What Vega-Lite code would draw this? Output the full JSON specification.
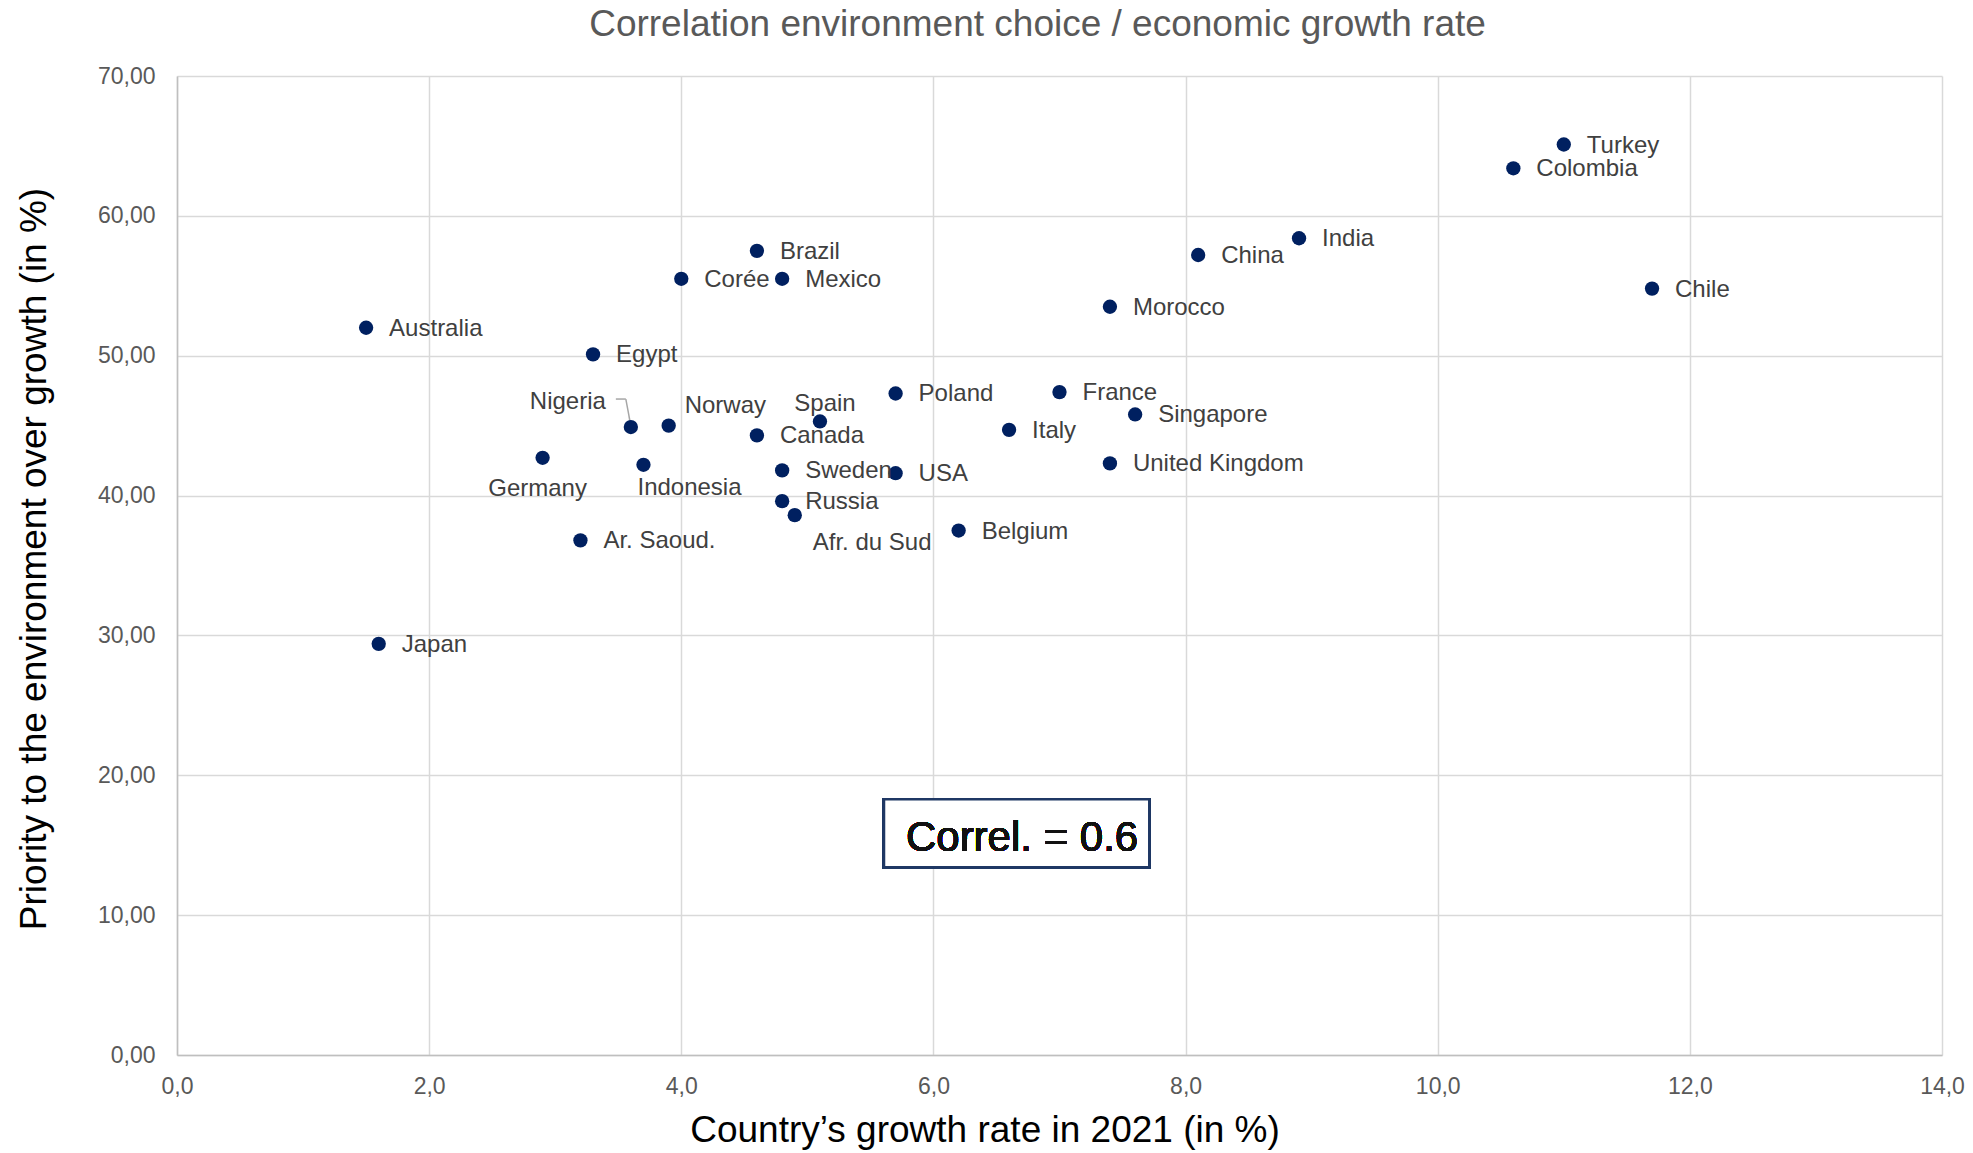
{
  "$schema": "https://vega.github.io/schema/vega-lite/v6.json",
  "autosize": {"type": "none"},
  "padding": {"left": 177, "top": 76, "right": 31, "bottom": 98},
  "width": 1765,
  "height": 979,
  "background": "white",
  "title": {
    "text": "Correlation environment choice / economic growth rate",
    "font": "Liberation Sans",
    "fontSize": 37,
    "fontWeight": "normal",
    "color": "#595959",
    "anchor": "middle",
    "dx": -22,
    "dy": 18,
    "baseline": "alphabetic",
    "offset": 10
  },
  "data": {
    "values": [
      {"country": "Australia", "growth": 1.5, "priority": 52.0},
      {"country": "Japan", "growth": 1.6, "priority": 29.4},
      {"country": "Germany", "growth": 2.9, "priority": 42.7},
      {"country": "Ar. Saoud.", "growth": 3.2, "priority": 36.8},
      {"country": "Egypt", "growth": 3.3, "priority": 50.1},
      {"country": "Nigeria", "growth": 3.6, "priority": 44.9},
      {"country": "Indonesia", "growth": 3.7, "priority": 42.2},
      {"country": "Norway", "growth": 3.9, "priority": 45.0},
      {"country": "Corée", "growth": 4.0, "priority": 55.5},
      {"country": "Brazil", "growth": 4.6, "priority": 57.5},
      {"country": "Canada", "growth": 4.6, "priority": 44.3},
      {"country": "Mexico", "growth": 4.8, "priority": 55.5},
      {"country": "Sweden", "growth": 4.8, "priority": 41.8},
      {"country": "Russia", "growth": 4.8, "priority": 39.6},
      {"country": "Afr. du Sud", "growth": 4.9, "priority": 38.6},
      {"country": "Spain", "growth": 5.1, "priority": 45.3},
      {"country": "Poland", "growth": 5.7, "priority": 47.3},
      {"country": "USA", "growth": 5.7, "priority": 41.6},
      {"country": "Belgium", "growth": 6.2, "priority": 37.5},
      {"country": "Italy", "growth": 6.6, "priority": 44.7},
      {"country": "France", "growth": 7.0, "priority": 47.4},
      {"country": "Morocco", "growth": 7.4, "priority": 53.5},
      {"country": "United Kingdom", "growth": 7.4, "priority": 42.3},
      {"country": "Singapore", "growth": 7.6, "priority": 45.8},
      {"country": "China", "growth": 8.1, "priority": 57.2},
      {"country": "India", "growth": 8.9, "priority": 58.4},
      {"country": "Colombia", "growth": 10.6, "priority": 63.4},
      {"country": "Turkey", "growth": 11.0, "priority": 65.1},
      {"country": "Chile", "growth": 11.7, "priority": 54.8}
    ]
  },
  "encoding": {
    "x": {
      "field": "growth",
      "type": "quantitative",
      "scale": {"domain": [0, 14], "nice": false, "zero": false},
      "axis": {
        "values": [0, 2, 4, 6, 8, 10, 12, 14],
        "labelExpr": "replace(format(datum.value, '.1f'), '.', ',')",
        "title": "Country’s growth rate in 2021 (in %)",
        "titleX": 807.5,
        "titleY": 86,
        "titleAlign": "center",
        "titleBaseline": "alphabetic",
        "labelPadding": 20
      }
    },
    "y": {
      "field": "priority",
      "type": "quantitative",
      "scale": {"domain": [0, 70], "nice": false, "zero": false},
      "axis": {
        "values": [0, 10, 20, 30, 40, 50, 60, 70],
        "labelExpr": "replace(format(datum.value, '.2f'), '.', ',')",
        "title": "Priority to the environment over growth (in %)",
        "titleAngle": -90,
        "titleX": -132,
        "titleY": 482.5,
        "titleAlign": "center",
        "titleBaseline": "alphabetic",
        "labelPadding": 22
      }
    }
  },
  "layer": [
    {
      "mark": {"type": "rect", "fill": "white", "stroke": "#1f3864", "strokeWidth": 2.5},
      "encoding": {
        "x": {"datum": 5.608},
        "x2": {"datum": 7.712},
        "y": {"datum": 18.28},
        "y2": {"datum": 13.42}
      }
    },
    {
      "mark": {"type": "text", "text": "Correl. = 0.6", "font": "Liberation Sans", "fontSize": 42, "fontWeight": "normal", "color": "#111111", "align": "left", "baseline": "alphabetic"},
      "encoding": {
        "x": {"datum": 5.782},
        "y": {"datum": 14.59}
      }
    },
    {
      "transform": [{"filter": "datum.country === 'Nigeria'"}],
      "mark": {"type": "rule", "color": "#a6a6a6", "strokeWidth": 1.5, "xOffset": -5, "yOffset": -28, "x2Offset": 0, "y2Offset": -1},
      "encoding": {
        "x2": {"field": "growth"},
        "y2": {"field": "priority"}
      }
    },
    {
      "transform": [{"filter": "datum.country === 'Nigeria'"}],
      "mark": {"type": "rule", "color": "#a6a6a6", "strokeWidth": 1.5, "xOffset": -15, "yOffset": -28, "x2Offset": -5, "y2Offset": -28},
      "encoding": {
        "x2": {"field": "growth"},
        "y2": {"field": "priority"}
      }
    },
    {
      "mark": {"type": "circle", "size": 205, "color": "#002060", "opacity": 1}
    },
    {
      "transform": [{"filter": "indexof(['Nigeria', 'Norway', 'Spain', 'Germany', 'Indonesia', 'Afr. du Sud'], datum.country) < 0"}],
      "mark": {"type": "text", "align": "left", "baseline": "middle", "dx": 23, "dy": 1, "font": "Liberation Sans", "fontSize": 24, "color": "#404040"},
      "encoding": {"text": {"field": "country"}}
    },
    {
      "transform": [{"filter": "datum.country === 'Nigeria'"}],
      "mark": {"type": "text", "align": "right", "baseline": "middle", "dx": -25, "dy": -25, "font": "Liberation Sans", "fontSize": 24, "color": "#404040"},
      "encoding": {"text": {"field": "country"}}
    },
    {
      "transform": [{"filter": "datum.country === 'Norway'"}],
      "mark": {"type": "text", "align": "left", "baseline": "middle", "dx": 16, "dy": -20, "font": "Liberation Sans", "fontSize": 24, "color": "#404040"},
      "encoding": {"text": {"field": "country"}}
    },
    {
      "transform": [{"filter": "datum.country === 'Spain'"}],
      "mark": {"type": "text", "align": "center", "baseline": "middle", "dx": 5, "dy": -17, "font": "Liberation Sans", "fontSize": 24, "color": "#404040"},
      "encoding": {"text": {"field": "country"}}
    },
    {
      "transform": [{"filter": "datum.country === 'Germany'"}],
      "mark": {"type": "text", "align": "center", "baseline": "middle", "dx": -5, "dy": 31, "font": "Liberation Sans", "fontSize": 24, "color": "#404040"},
      "encoding": {"text": {"field": "country"}}
    },
    {
      "transform": [{"filter": "datum.country === 'Indonesia'"}],
      "mark": {"type": "text", "align": "left", "baseline": "middle", "dx": -6, "dy": 23, "font": "Liberation Sans", "fontSize": 24, "color": "#404040"},
      "encoding": {"text": {"field": "country"}}
    },
    {
      "transform": [{"filter": "datum.country === 'Afr. du Sud'"}],
      "mark": {"type": "text", "align": "left", "baseline": "middle", "dx": 18, "dy": 28, "font": "Liberation Sans", "fontSize": 24, "color": "#404040"},
      "encoding": {"text": {"field": "country"}}
    }
  ],
  "config": {
    "view": {"stroke": null},
    "axis": {
      "grid": true,
      "gridColor": "#d9d9d9",
      "gridWidth": 1.5,
      "domainColor": "#bfbfbf",
      "domainWidth": 1.5,
      "ticks": false,
      "labelFlush": false,
      "labelFont": "Liberation Sans",
      "labelFontSize": 23,
      "labelColor": "#595959",
      "titleFont": "Liberation Sans",
      "titleFontSize": 37,
      "titleFontWeight": "normal",
      "titleColor": "black"
    }
  }
}
